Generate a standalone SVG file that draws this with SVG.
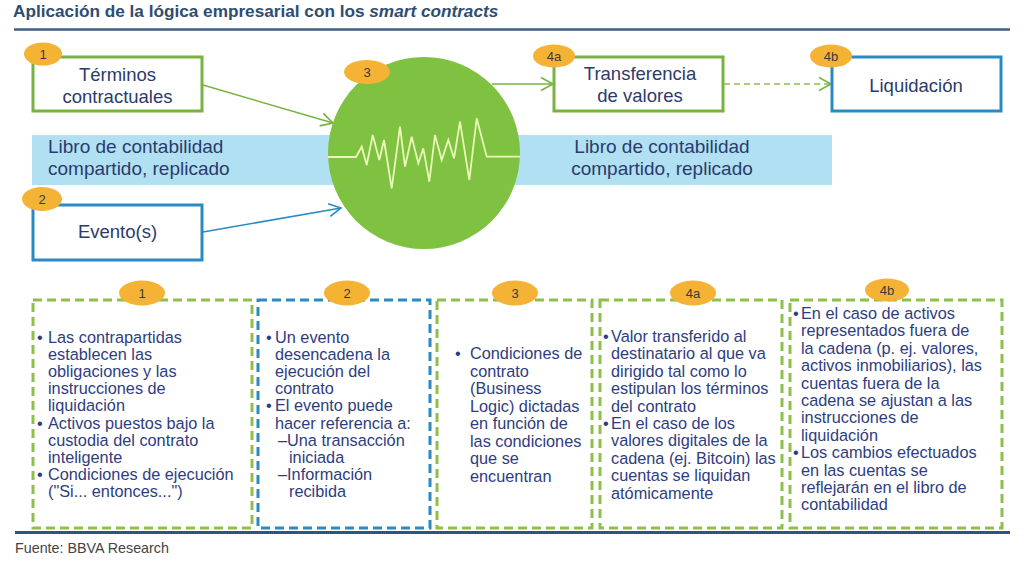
<svg xmlns="http://www.w3.org/2000/svg" width="1024" height="562" viewBox="0 0 1024 562">
<defs>
<style>
.t{font-family:"Liberation Sans",Arial,sans-serif}
.title{font-size:17.2px;font-weight:bold;fill:#2e4d72}
.box{fill:#fff;stroke-width:3}
.g{stroke:#78b341}
.b{stroke:#2b8ac2}
.bt{font-size:18.5px;fill:#2b3b6b;text-anchor:middle}
.bar{fill:#b1e0f3}
.bart{font-size:19px;fill:#2b3b6b}
.badge{fill:#f5b335}
.badget{font-size:13px;fill:#3a3a3a;text-anchor:middle}
.pan{fill:#fff;stroke-width:3;stroke-dasharray:9 5}
.pt{font-size:16.3px;fill:#2e3d80}
.conn{fill:none;stroke-width:1.5}
</style>
<marker id="ag" markerUnits="userSpaceOnUse" markerWidth="16" markerHeight="16" refX="13" refY="8" orient="auto">
<path d="M1,1.5 L13,8 L1,14.5" fill="none" stroke="#78b341" stroke-width="1.6"/>
</marker>
<marker id="ab" markerUnits="userSpaceOnUse" markerWidth="16" markerHeight="16" refX="13" refY="8" orient="auto">
<path d="M1,1.5 L13,8 L1,14.5" fill="none" stroke="#2b8ac2" stroke-width="1.6"/>
</marker>
</defs>
<rect width="1024" height="562" fill="#fff"/>

<g id="title">
<text class="t title" x="13" y="17">Aplicación de la lógica empresarial con los <tspan font-style="italic">smart contracts</tspan></text>
<line x1="14" y1="29.5" x2="1010" y2="29.5" stroke="#3f5f80" stroke-width="2.5"/>
</g>

<g id="ledger">
<rect class="bar" x="32" y="135" width="800" height="50"/>
<text class="t bart" x="48" y="153">Libro de contabilidad</text>
<text class="t bart" x="48" y="175">compartido, replicado</text>
<text class="t bart" x="662" y="153" text-anchor="middle">Libro de contabilidad</text>
<text class="t bart" x="662" y="175" text-anchor="middle">compartido, replicado</text>
</g>

<g id="connectors">
<line class="conn" x1="203" y1="85" x2="333" y2="123" stroke="#78b341" marker-end="url(#ag)"/>
<line class="conn" x1="203" y1="232" x2="341" y2="208" stroke="#2b8ac2" marker-end="url(#ab)"/>
<line class="conn" x1="492" y1="84" x2="553" y2="84" stroke="#78b341" marker-end="url(#ag)"/>
<line class="conn" x1="724" y1="84" x2="831" y2="84" stroke="#8cc04a" stroke-dasharray="6 4" marker-end="url(#ag)"/>
</g>

<g id="node-contract">
<circle cx="424" cy="153" r="96" fill="#7fc241"/>
<polyline fill="none" stroke="#eaf8b8" stroke-width="1.8" stroke-linejoin="miter" points="328,157 356,157 361.7,146.7 366.7,165 372.7,135 379.3,160 384,140 391.7,188.3 400,126.7 405,166.7 411.7,136.7 418.3,163.3 423.3,148.3 429.3,181.7 435,135 441.7,160 448.3,140 454,158.3 460,121.7 469.3,180 476.7,118.3 486.7,156.7 520,156.7"/>
<ellipse class="badge" cx="367" cy="72" rx="23" ry="12"/>
<text class="t badget" x="367" y="77">3</text>
</g>

<g id="node-terminos">
<rect class="box g" x="33" y="57" width="169" height="54"/>
<text class="t bt" x="117.5" y="81">Términos</text>
<text class="t bt" x="117.5" y="103">contractuales</text>
<ellipse class="badge" cx="43" cy="54" rx="19" ry="11.5"/>
<text class="t badget" x="43" y="59">1</text>
</g>

<g id="node-evento">
<rect class="box b" x="33" y="205" width="169" height="55"/>
<text class="t bt" x="117.5" y="238">Evento(s)</text>
<ellipse class="badge" cx="42" cy="199" rx="20" ry="12"/>
<text class="t badget" x="42" y="204">2</text>
</g>

<g id="node-transferencia">
<rect class="box g" x="554" y="57" width="169" height="54"/>
<text class="t bt" x="640" y="80">Transferencia</text>
<text class="t bt" x="640" y="102">de valores</text>
<ellipse class="badge" cx="554" cy="56" rx="21" ry="11.5"/>
<text class="t badget" x="554" y="61">4a</text>
</g>

<g id="node-liquidacion">
<rect class="box b" x="832" y="57" width="169" height="54"/>
<text class="t bt" x="916" y="92">Liquidación</text>
<ellipse class="badge" cx="831" cy="56" rx="21" ry="11.5"/>
<text class="t badget" x="831" y="61">4b</text>
</g>

<g id="panel-1">
<rect class="pan" x="33" y="300" width="219" height="228" stroke="#8cc04a"/>
<text class="t pt">
<tspan x="37" y="343">•</tspan><tspan x="48" y="343">Las contrapartidas</tspan>
<tspan x="48" y="360.1">establecen las</tspan>
<tspan x="48" y="377.2">obligaciones y las</tspan>
<tspan x="48" y="394.3">instrucciones de</tspan>
<tspan x="48" y="411.4">liquidación</tspan>
<tspan x="37" y="428.5">•</tspan><tspan x="48" y="428.5">Activos puestos bajo la</tspan>
<tspan x="48" y="445.6">custodia del contrato</tspan>
<tspan x="48" y="462.7">inteligente</tspan>
<tspan x="37" y="479.8">•</tspan><tspan x="48" y="479.8">Condiciones de ejecución</tspan>
<tspan x="48" y="496.9">("Si... entonces...")</tspan>
</text>
<ellipse class="badge" cx="142" cy="293" rx="23" ry="12.5"/>
<text class="t badget" x="142" y="298">1</text>
</g>

<g id="panel-2">
<rect class="pan" x="258" y="300" width="172" height="228" stroke="#2b8ac2"/>
<text class="t pt">
<tspan x="266" y="343">•</tspan><tspan x="275" y="343">Un evento</tspan>
<tspan x="275" y="360.1">desencadena la</tspan>
<tspan x="275" y="377.2">ejecución del</tspan>
<tspan x="275" y="394.3">contrato</tspan>
<tspan x="266" y="411.4">•</tspan><tspan x="275" y="411.4">El evento puede</tspan>
<tspan x="275" y="428.5">hacer referencia a:</tspan>
<tspan x="278" y="445.6">–Una transacción</tspan>
<tspan x="289" y="462.7">iniciada</tspan>
<tspan x="278" y="479.8">–Información</tspan>
<tspan x="289" y="496.9">recibida</tspan>
</text>
<ellipse class="badge" cx="347" cy="293" rx="23" ry="12.5"/>
<text class="t badget" x="347" y="298">2</text>
</g>

<g id="panel-3">
<rect class="pan" x="437" y="300" width="155" height="228" stroke="#8cc04a"/>
<text class="t pt">
<tspan x="455" y="359">•</tspan><tspan x="470" y="359">Condiciones de</tspan>
<tspan x="470" y="376.5">contrato</tspan>
<tspan x="470" y="394">(Business</tspan>
<tspan x="470" y="411.5">Logic) dictadas</tspan>
<tspan x="470" y="429">en función de</tspan>
<tspan x="470" y="446.5">las condiciones</tspan>
<tspan x="470" y="464">que se</tspan>
<tspan x="470" y="481.5">encuentran</tspan>
</text>
<ellipse class="badge" cx="515" cy="293" rx="23" ry="12.5"/>
<text class="t badget" x="515" y="298">3</text>
</g>

<g id="panel-4a">
<rect class="pan" x="600" y="300" width="182" height="228" stroke="#8cc04a"/>
<text class="t pt">
<tspan x="603" y="342">•</tspan><tspan x="611" y="342">Valor transferido al</tspan>
<tspan x="611" y="359.4">destinatario al que va</tspan>
<tspan x="611" y="376.8">dirigido tal como lo</tspan>
<tspan x="611" y="394.2">estipulan los términos</tspan>
<tspan x="611" y="411.6">del contrato</tspan>
<tspan x="603" y="429">•</tspan><tspan x="611" y="429">En el caso de los</tspan>
<tspan x="611" y="446.4">valores digitales de la</tspan>
<tspan x="611" y="463.8">cadena (ej. Bitcoin) las</tspan>
<tspan x="611" y="481.2">cuentas se liquidan</tspan>
<tspan x="611" y="498.6">atómicamente</tspan>
</text>
<ellipse class="badge" cx="693" cy="293" rx="23" ry="12.5"/>
<text class="t badget" x="693" y="298">4a</text>
</g>

<g id="panel-4b">
<rect class="pan" x="790" y="300" width="212" height="228" stroke="#8cc04a"/>
<text class="t pt">
<tspan x="793" y="319">•</tspan><tspan x="801" y="319">En el caso de activos</tspan>
<tspan x="801" y="336.4">representados fuera de</tspan>
<tspan x="801" y="353.8">la cadena (p. ej. valores,</tspan>
<tspan x="801" y="371.2">activos inmobiliarios), las</tspan>
<tspan x="801" y="388.6">cuentas fuera de la</tspan>
<tspan x="801" y="406">cadena se ajustan a las</tspan>
<tspan x="801" y="423.4">instrucciones de</tspan>
<tspan x="801" y="440.8">liquidación</tspan>
<tspan x="793" y="458.2">•</tspan><tspan x="801" y="458.2">Los cambios efectuados</tspan>
<tspan x="801" y="475.6">en las cuentas se</tspan>
<tspan x="801" y="493">reflejarán en el libro de</tspan>
<tspan x="801" y="510.4">contabilidad</tspan>
</text>
<ellipse class="badge" cx="887" cy="290" rx="22" ry="11.5"/>
<text class="t badget" x="887" y="295">4b</text>
</g>

<g id="footer">
<line x1="15" y1="532.5" x2="1010" y2="532.5" stroke="#2a5585" stroke-width="3"/>
<text class="t" x="15" y="553" font-size="14.3" fill="#444">Fuente: BBVA Research</text>
</g>
</svg>
